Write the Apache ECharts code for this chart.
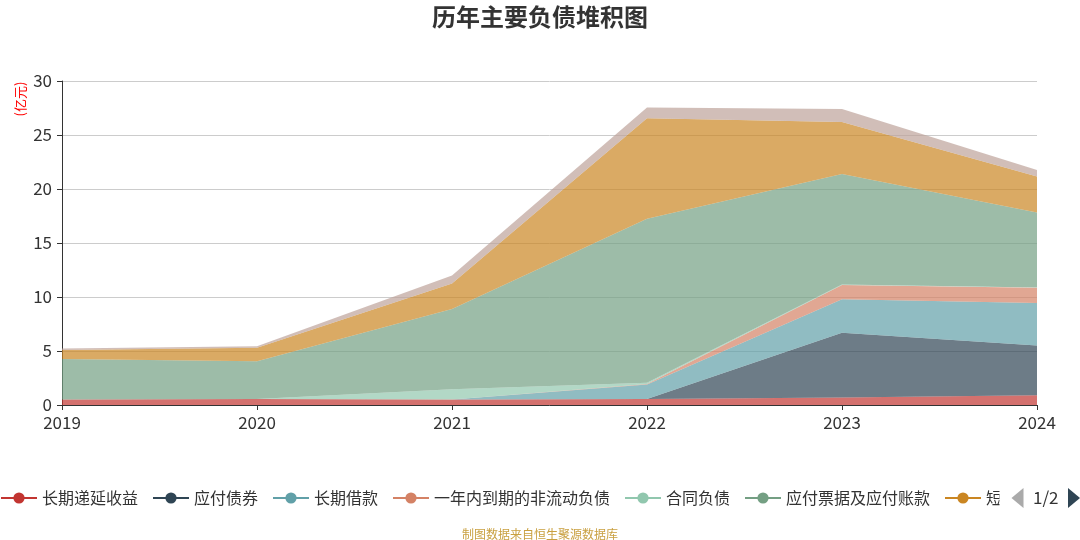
<!DOCTYPE html>
<html>
<head>
<meta charset="utf-8">
<script src="https://cdn.jsdelivr.net/npm/echarts@6/dist/echarts.min.js"></script>
<style>
    html, body { margin: 0; padding: 0; background: #fff; }
    #chart { width: 1080px; height: 540px; }
</style>
</head>
<body>
<div id="chart"></div>
<script>
// 年份
const years = ['2019', '2020', '2021', '2022', '2023', '2024'];
// 各负债项目(亿元)，自下而上堆积
const deferredIncome = [0.5, 0.55, 0.5, 0.55, 0.7, 0.9];      // 长期递延收益
const bondsPayable = [0, 0, 0, 0, 6.0, 4.6];                  // 应付债券
const longLoans = [0, 0, 0, 1.35, 3.1, 3.95];                 // 长期借款
const currentNonCurrent = [0, 0, 0, 0.05, 1.3, 1.4];          // 一年内到期的非流动负债
const contractLiab = [0, 0, 0.95, 0.1, 0.05, 0.02];           // 合同负债
const notesPayable = [3.75, 3.5, 7.45, 15.2, 10.25, 6.95];    // 应付票据及应付账款
const shortLoans = [0.85, 1.25, 2.35, 9.3, 4.8, 3.33];        // 短期借款
const others = [0.12, 0.15, 0.75, 1.0, 1.2, 0.62];            // 其他
const seriesNames = ['长期递延收益', '应付债券', '长期借款', '一年内到期的非流动负债',
    '合同负债', '应付票据及应付账款', '短期借款', '其他'];
const seriesData = [deferredIncome, bondsPayable, longLoans, currentNonCurrent,
    contractLiab, notesPayable, shortLoans, others];
const yTicks = [0, 5, 10, 15, 20, 25, 30];

const colors = ['#c23531', '#2f4554', '#61a0a8', '#d48265', '#91c7ae', '#749f83', '#ca8622', '#bda29a'];
const font = '"Noto Sans CJK SC", "Noto Sans", sans-serif';

let myChart = echarts.init(document.getElementById('chart'));
let option = {
    color: colors,
    animation: false,
    textStyle: { fontFamily: font },
    title: [{
        text: '历年主要负债堆积图',
        left: 'center',
        top: 0,
        textStyle: { fontSize: 24, fontWeight: 'bold', color: '#333', fontFamily: font }
    }, {
        text: '制图数据来自恒生聚源数据库',
        left: 'center',
        top: 523,
        textStyle: { fontSize: 12, fontWeight: 'normal', color: '#c9a040', fontFamily: font }
    }],
    graphic: [{
        type: 'text',
        x: 20,
        y: 99,
        rotation: Math.PI / 2,
        style: {
            text: '(亿元)',
            fill: '#ff0000',
            font: '13px ' + font,
            textAlign: 'center',
            textVerticalAlign: 'middle'
        }
    }],
    legend: {
        type: 'scroll',
        left: 0,
        right: 0,
        top: 483,
        padding: [5, 0],
        itemGap: 14,
        itemWidth: 36,
        itemHeight: 14,
        textStyle: { fontSize: 16, color: '#333', fontFamily: font },
        lineStyle: { width: 2 },
        pageButtonGap: 12,
        pageButtonItemGap: 2,
        pageIconColor: '#2f4554',
        pageIconInactiveColor: '#aaa',
        pageIconSize: [12, 20],
        pageTextStyle: { fontSize: 17, color: '#333' },
        data: seriesNames
    },
    grid: { left: 62, right: 43, top: 81, bottom: 135 },
    xAxis: {
        type: 'category',
        boundaryGap: false,
        data: years,
        axisLine: { lineStyle: { color: '#333' } },
        axisTick: { show: true, alignWithLabel: true, lineStyle: { color: '#333' } },
        axisLabel: { fontSize: 17, color: '#333', margin: 9 }
    },
    yAxis: {
        type: 'value',
        min: yTicks[0],
        max: yTicks[yTicks.length - 1],
        interval: 5,
        axisLine: { show: true, lineStyle: { color: '#333' } },
        axisTick: { show: true, lineStyle: { color: '#333' } },
        axisLabel: { fontSize: 17, color: '#333', margin: 10 },
        splitLine: { lineStyle: { color: '#ccc' } }
    },
    series: seriesNames.map((name, i) => ({
        name: name,
        type: 'line',
        stack: 'total',
        symbol: 'circle',
        showSymbol: false,
        lineStyle: { width: 0 },
        areaStyle: { opacity: 0.7 },
        data: seriesData[i]
    }))
};
myChart.setOption(option);
</script>
</body>
</html>
